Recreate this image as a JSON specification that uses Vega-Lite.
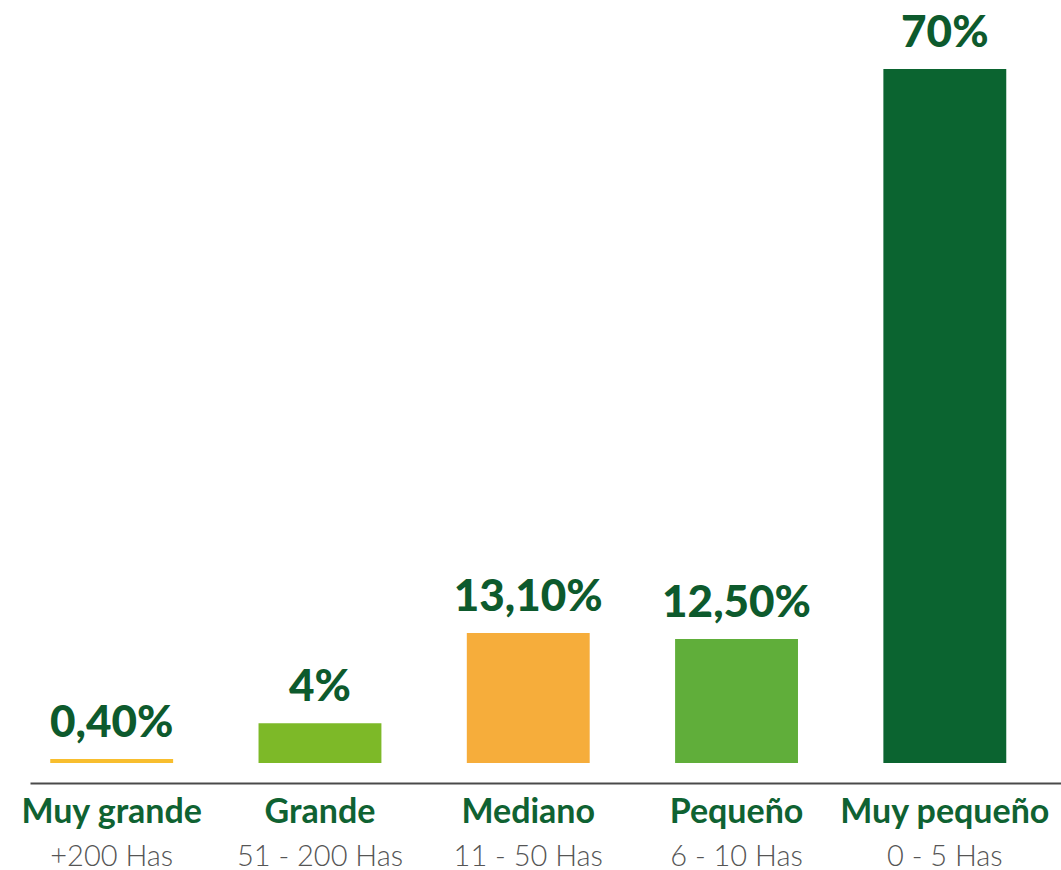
{
  "$schema": "https://vega.github.io/schema/vega-lite/v6.json",
  "width": 1031,
  "height": 694,
  "padding": {"left": 30, "top": 69, "right": 0, "bottom": 107},
  "autosize": {"type": "none"},
  "background": "white",
  "config": {"view": {"stroke": null}},
  "data": {
    "values": [
      {"cat": "Muy grande", "range": "+200 Has", "pct": 0.4, "label": "0,40%"},
      {"cat": "Grande", "range": "51 - 200 Has", "pct": 4, "label": "4%"},
      {"cat": "Mediano", "range": "11 - 50 Has", "pct": 13.1, "label": "13,10%"},
      {"cat": "Pequeño", "range": "6 - 10 Has", "pct": 12.5, "label": "12,50%"},
      {"cat": "Muy pequeño", "range": "0 - 5 Has", "pct": 70, "label": "70%"}
    ]
  },
  "encoding": {
    "x": {
      "field": "cat",
      "type": "nominal",
      "sort": null,
      "scale": {"paddingInner": 0.41, "paddingOuter": 0.18, "align": 0.27}
    },
    "y": {
      "field": "pct",
      "type": "quantitative",
      "scale": {"domain": [0, 70], "nice": false, "zero": true},
      "axis": null
    }
  },
  "layer": [
    {
      "mark": {"type": "bar"},
      "encoding": {
        "x": {
          "field": "cat",
          "type": "nominal",
          "sort": null,
          "axis": {
            "title": null,
            "orient": "bottom",
            "offset": 20,
            "domain": true,
            "domainColor": "#4a4a4a",
            "domainWidth": 2,
            "ticks": false,
            "tickSize": 0,
            "labelAngle": 0,
            "labelFont": "Lato",
            "labelFontWeight": "bold",
            "labelFontSize": 34,
            "labelColor": "#0f6232",
            "labelBaseline": "alphabetic",
            "labelPadding": 39,
            "labelOverlap": false,
            "labelLimit": 0
          }
        },
        "color": {
          "field": "cat",
          "type": "nominal",
          "scale": {
            "domain": ["Muy grande", "Grande", "Mediano", "Pequeño", "Muy pequeño"],
            "range": ["#F8BE2E", "#7DB928", "#F6AD3B", "#60AE3A", "#0B6430"]
          },
          "legend": null
        }
      }
    },
    {
      "mark": {
        "type": "text",
        "font": "Lato",
        "fontWeight": 900,
        "fontSize": 44,
        "color": "#0d5a2d",
        "baseline": "alphabetic",
        "dy": -22
      },
      "encoding": {
        "x": {
          "field": "cat",
          "type": "nominal",
          "sort": null,
          "axis": {
            "title": null,
            "orient": "bottom",
            "offset": 20,
            "domain": false,
            "ticks": false,
            "tickSize": 0,
            "labelAngle": 0,
            "labelFont": "Lato",
            "labelFontWeight": 300,
            "labelFontSize": 29,
            "labelColor": "#555555",
            "labelBaseline": "alphabetic",
            "labelPadding": 82,
            "labelOverlap": false,
            "labelLimit": 0,
            "labelExpr": "{'Muy grande': '+200 Has', 'Grande': '51 - 200 Has', 'Mediano': '11 - 50 Has', 'Pequeño': '6 - 10 Has', 'Muy pequeño': '0 - 5 Has'}[datum.label]"
          }
        },
        "text": {"field": "label"}
      }
    }
  ],
  "resolve": {"axis": {"x": "independent"}}
}
